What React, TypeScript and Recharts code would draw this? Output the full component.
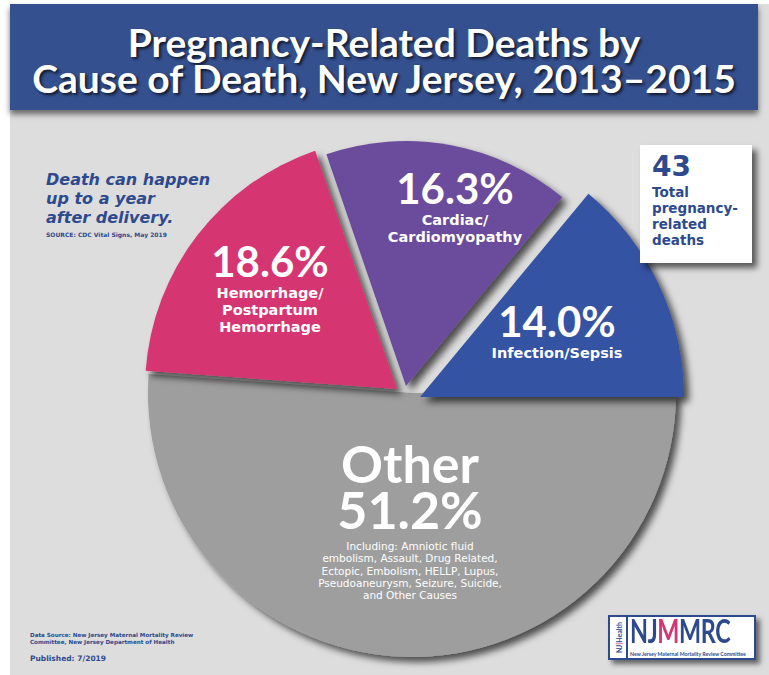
import { PieChart, Pie, Cell } from 'recharts';

const causes = ['Infection/Sepsis', 'Cardiac/Cardiomyopathy', 'Hemorrhage/Postpartum Hemorrhage', 'Other'];
const shares = [14.0, 16.3, 18.6, 51.2];
const sliceColors = ['#3452a3', '#6b4c9c', '#d53570', '#9e9e9e'];
const totalDeaths = 43;
const otherCauses = [
  'Including: Amniotic fluid',
  'embolism, Assault, Drug Related,',
  'Ectopic, Embolism, HELLP, Lupus,',
  'Pseudoaneurysm, Seizure, Suicide,',
  'and Other Causes',
];

const data = causes.map((name, i) => ({ name, value: shares[i] }));

// each slice gets its own Pie so it can be pulled out from the centre
const explode = [
  { index: 3, cx: 407, cy: 388, r: 264 },
  { index: 0, cx: 415, cy: 392, r: 264 },
  { index: 1, cx: 401, cy: 381, r: 245 },
  { index: 2, cx: 392, cy: 384, r: 252 },
];

const navy = '#2d4a8e';
const font = 'Lato, "DejaVu Sans", sans-serif';
const wide = '"DejaVu Sans", sans-serif';

const abs = (x: number, y: number, extra: React.CSSProperties = {}): React.CSSProperties => ({
  position: 'absolute',
  left: x,
  top: y,
  ...extra,
});

const SliceLabel = ({ x, y, pct, lines }: { x: number; y: number; pct: string; lines: string[] }) => (
  <div style={abs(x - 150, y, { width: 300, textAlign: 'center', color: '#fff' })}>
    <div style={{ fontFamily: font, fontSize: 42, fontWeight: 700, lineHeight: '42px', marginBottom: 3 }}>{pct}</div>
    {lines.map((l) => (
      <div key={l} style={{ fontFamily: wide, fontSize: 14.5, fontWeight: 700, lineHeight: '17px' }}>{l}</div>
    ))}
  </div>
);

const App = () => {
  return (
    <div style={{ position: 'absolute', left: 0, top: 0, width: 769, height: 675, background: '#fff', overflow: 'hidden', fontFamily: font }}>
      <div style={abs(10, 4, { width: 759, height: 671, background: '#dddddd' })} />
      <div
        style={abs(10, 4, {
          width: 748,
          height: 106,
          background: '#35508f',
          boxShadow: '0 4px 6px rgba(0,0,0,0.55)',
          color: '#fff',
          textAlign: 'center',
          fontSize: 39,
          fontWeight: 700,
          lineHeight: '36px',
          paddingTop: 20,
          boxSizing: 'border-box',
          textShadow: '2px 2px 3px rgba(0,0,0,0.7)',
        })}
      >
        <div>Pregnancy-Related Deaths by</div>
        <div>Cause of Death, New Jersey, 2013–2015</div>
      </div>

      <div style={abs(0, 0)}>
        <PieChart width={769} height={675}>
          <defs>
            <filter id="drop" x="-20%" y="-20%" width="140%" height="140%">
              <feDropShadow dx="5" dy="5" stdDeviation="3.5" floodColor="#000" floodOpacity="0.65" />
            </filter>
          </defs>
          {explode.map((e) => (
            <Pie
              key={e.index}
              data={data}
              dataKey="value"
              cx={e.cx}
              cy={e.cy}
              outerRadius={e.r}
              startAngle={0}
              endAngle={360}
              stroke="none"
              isAnimationActive={false}
            >
              {data.map((d, i) => (
                <Cell
                  key={`cell-${i}`}
                  fill={i === e.index ? sliceColors[i] : 'none'}
                  filter={i === e.index ? 'url(#drop)' : undefined}
                />
              ))}
            </Pie>
          ))}
        </PieChart>
      </div>

      <SliceLabel x={270} y={240} pct={`${shares[2].toFixed(1)}%`} lines={['Hemorrhage/', 'Postpartum', 'Hemorrhage']} />
      <SliceLabel x={455} y={167} pct={`${shares[1].toFixed(1)}%`} lines={['Cardiac/', 'Cardiomyopathy']} />
      <SliceLabel x={557} y={300} pct={`${shares[0].toFixed(1)}%`} lines={['Infection/Sepsis']} />

      <div style={abs(260, 440, { width: 300, textAlign: 'center', color: '#fff' })}>
        <div style={{ fontSize: 52, fontWeight: 700, lineHeight: '46px' }}>Other</div>
        <div style={{ fontSize: 52, fontWeight: 700, lineHeight: '46px' }}>{`${shares[3].toFixed(1)}%`}</div>
        <div style={{ marginTop: 8, fontFamily: wide }}>
          {otherCauses.map((l) => (
            <div key={l} style={{ fontSize: 10.5, lineHeight: '12.3px' }}>{l}</div>
          ))}
        </div>
      </div>

      <div style={abs(46, 170, { color: navy, fontFamily: wide, fontStyle: 'italic', fontWeight: 700, fontSize: 16, lineHeight: '19px' })}>
        <div>Death can happen</div>
        <div>up to a year</div>
        <div>after delivery.</div>
        <div style={{ fontSize: 6, fontStyle: 'normal', lineHeight: '9px', marginTop: 3 }}>SOURCE: CDC Vital Signs, May 2019</div>
      </div>

      <div
        style={abs(640, 145, {
          width: 112,
          height: 118,
          background: '#fff',
          boxShadow: '5px 5px 6px rgba(0,0,0,0.6)',
          color: navy,
          boxSizing: 'border-box',
          padding: '5px 0 0 12px',
          fontWeight: 700,
        })}
      >
        <div style={{ fontFamily: wide, fontSize: 28, lineHeight: '33px' }}>{totalDeaths}</div>
        <div style={{ fontFamily: wide, fontSize: 13.5, lineHeight: '16px', marginTop: 1 }}>
          <div>Total</div>
          <div>pregnancy-</div>
          <div>related</div>
          <div>deaths</div>
        </div>
      </div>

      <div style={abs(30, 632, { color: navy, fontFamily: wide, fontSize: 5.6, lineHeight: '7px', fontWeight: 700 })}>
        <div>Data Source: New Jersey Maternal Mortality Review</div>
        <div>Committee, New Jersey Department of Health</div>
        <div style={{ fontSize: 7.5, lineHeight: '10px', marginTop: 8 }}>Published: 7/2019</div>
      </div>

      <div
        style={abs(608, 615, {
          width: 148,
          height: 45,
          background: '#fff',
          border: `2px solid ${navy}`,
          boxSizing: 'border-box',
          boxShadow: '4px 4px 5px rgba(0,0,0,0.55)',
        })}
      >
        <div
          style={abs(-11, 16, {
            width: 40,
            height: 9,
            lineHeight: '9px',
            transform: 'rotate(-90deg)',
            transformOrigin: 'center',
            fontSize: 7,
            fontWeight: 700,
            color: navy,
            textAlign: 'center',
            whiteSpace: 'nowrap',
          })}
        >
          NJ<span style={{ color: '#d53570' }}>|</span>Health
        </div>
        <div style={abs(16, 0, { width: 1.5, height: 41, background: navy })} />
        <div
          style={abs(20, -1, {
            fontSize: 32,
            lineHeight: '30px',
            fontWeight: 700,
            color: navy,
            letterSpacing: -0.5,
            transform: 'scaleX(0.73)',
            transformOrigin: 'left center',
            whiteSpace: 'nowrap',
          })}
        >
          NJ<span style={{ color: '#d53570' }}>M</span>MRC
        </div>
        <div style={abs(20, 33.5, { fontSize: 5.2, lineHeight: '6px', fontWeight: 700, color: navy, whiteSpace: 'nowrap' })}>
          New Jersey Maternal Mortality Review Committee
        </div>
      </div>
    </div>
  );
};

export default App;
